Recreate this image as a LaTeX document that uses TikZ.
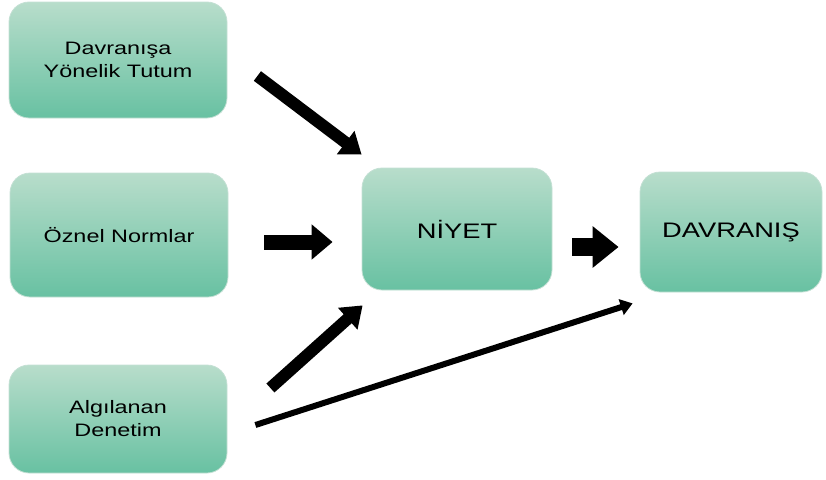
\documentclass[tikz,border=0pt]{standalone}
\usepackage{fontspec}
\setmainfont{Liberation Sans}[FakeStretch=1.3]
\usetikzlibrary{arrows.meta,calc}
\definecolor{boxtop}{RGB}{184,221,203}
\definecolor{boxbot}{RGB}{104,193,162}
\definecolor{boxline}{RGB}{196,224,212}

\begin{document}
\begin{tikzpicture}[x=1pt,y=-1pt,
  box/.style={draw=boxline,line width=0.8pt,rounded corners=20pt,
    top color=boxtop,bottom color=boxbot,align=center,
    font=\fontsize{18}{23}\selectfont},
  bigbox/.style={box,font=\fontsize{21}{25}\selectfont},
  fat/.style={line width=12pt,-{Triangle[length=20pt,width=28pt]}},
  thin/.style={line width=6pt,-{Triangle[length=12pt,width=16pt]}}]
  \useasboundingbox (0,0) rectangle (826,479);
  \node[box,minimum width=218pt,minimum height=116pt] (tutum) at (118,60) {Davranışa\\Yönelik Tutum};
  \node[box,minimum width=218pt,minimum height=124pt] (oznel) at (119,235) {Öznel Normlar};
  \node[box,minimum width=218pt,minimum height=108pt] (denetim) at (118,419) {Algılanan\\Denetim};
  \node[bigbox,minimum width=190pt,minimum height=122pt] (niyet) at (457,229) {NİYET};
  \node[bigbox,minimum width=182pt,minimum height=120pt] (davranis) at (731,232) {DAVRANIŞ};

  \draw[fat] ($(tutum.east)+(30,16)$) -- ($(niyet.north west)+(0,-13)$);
  \draw[fat,line width=15pt,-{Triangle[length=21pt,width=34pt]}]
    ($(oznel.east)+(36,7)$) -- ($(niyet.west)+(-29,13)$);
  \draw[fat,line width=18pt,-{Triangle[length=26pt,width=40pt]}]
    ($(niyet.east)+(20,18)$) -- ($(davranis.west)+(-21,15)$);
  \draw[fat] ($(denetim.east)+(43,-31)$) -- ($(niyet.south west)+(1,15)$);
  \draw[thin] ($(denetim.east)+(28,6)$) -- ($(davranis.south west)+(-7,11)$);
\end{tikzpicture}
\end{document}
